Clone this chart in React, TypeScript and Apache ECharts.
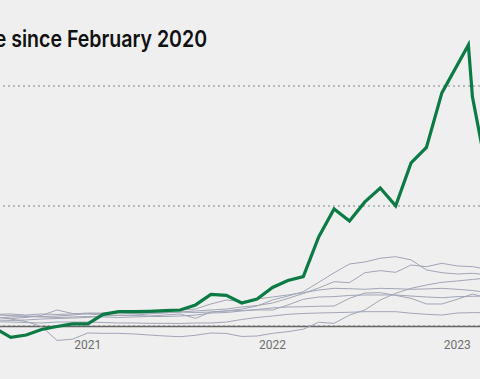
import React, { useEffect, useRef } from "react";
import * as echarts from "echarts";

// Monthly observations, July 2020 – March 2023 (percent change since February 2020)
const months: string[] = [
  "2020-07", "2020-08", "2020-09", "2020-10", "2020-11", "2020-12",
  "2021-01", "2021-02", "2021-03", "2021-04", "2021-05", "2021-06",
  "2021-07", "2021-08", "2021-09", "2021-10", "2021-11", "2021-12",
  "2022-01", "2022-02", "2022-03", "2022-04", "2022-05", "2022-06",
  "2022-07", "2022-08", "2022-09", "2022-10", "2022-11", "2022-12",
  "2023-01", "2023-02", "2023-03",
];

const greenMonths: string[] = months.slice(0, 30);
const greenValues: number[] = [
  -2, -9.4, -7.5, -2.9, -0.4, 1.7,
  1.7, 9.7, 11.9, 11.9, 12.2, 12.7,
  13.3, 17.5, 26.2, 25.4, 19.1, 22.4,
  32, 37.8, 41.1, 74, 97.3, 87.3,
  103.1, 114.7, 99.8, 135.5, 148.4, 193.7,
];
const greenTailDates: string[] = ["2023-01-23", "2023-01-31", "2023-02-24"];
const greenTailValues: number[] = [233.6, 190.4, 139];

const grayA: number[] = [
  7.5, 6.2, 7.1, 8.7, 13.3, 10.4, 10, 9.1, 8.7, 9.1, 10, 10.8,
  11.6, 11.2, 11.6, 12.5, 14.1, 16.6, 21.6, 24.9, 28.5, 36.3, 44.2, 51.5,
  53.2, 56.3, 57.6, 54.9, 46.6, 44.3, 43.2, 43.8, 42.4,
];
const grayB: number[] = [
  9.6, 10, 9.1, 10, 9.6, 10, 10.8, 10.4, 10.8, 10.4, 10.8, 11.2,
  11.6, 12.5, 13.3, 14.1, 15.8, 17, 19.1, 22.9, 27, 31.6, 36.8, 36,
  44.3, 46, 44.6, 50.7, 49.3, 52.1, 49.9, 49.3, 47.1,
];
const grayC: number[] = [
  7.5, 5.8, 3.7, -0.4, -12, -11, -5.8, -6.1, -6.1, -6.6, -7.5, -8.3,
  -8.9, -7.7, -5.8, -6.2, -8.7, -8.3, -6.1, -4.7, -2.7, 3.1, 2.2, 9.1,
  13.3, 21.6, 27.2, 31.3, 34.1, 36.3, 37.4, 38.7, 39.9,
];
const grayD: number[] = [
  9.1, 8.7, 8.3, 7.9, 8.3, 9.1, 10.4, 10.8, 11.6, 11.6, 12, 12.5,
  13.3, 14.1, 18.3, 21.6, 20.2, 22.4, 24.1, 25.8, 27.7, 29.9, 31.3, 31,
  30.5, 31.3, 31, 30.5, 30.8, 31.3, 30.5, 29.5, 27.7,
];
const grayE: number[] = [
  6.6, 7.5, 7.9, 7.5, 7.1, 7.5, 7.9, 7.5, 7.1, 7.5, 7.9, 7.9,
  8.3, 9.1, 10.8, 11.2, 12.5, 13.7, 15, 15.8, 16, 16.4, 16.6, 23,
  27.4, 27.7, 25.4, 23, 18.3, 18.3, 22.2, 26.6, 23,
];
const grayF: number[] = [
  5, 4.6, 5, 5.8, 6.2, 6.6, 7.1, 8.3, 9.1, 8.7, 8.3, 9.1,
  10, 6.4, 11.6, 12.5, 12.9, 13.3, 13.3, 17.5, 22.2, 24.1, 24.4, 25.4,
  25.8, 25.8, 25.8, 24.9, 24.1, 23.5, 24.4, 24.7, 24.9,
];
const grayG: number[] = [
  3.6, 3.3, 2.9, 2.5, 3.3, 3.3, 3.3, 2.9, 2.5, 2.5, 2.2, 2.2,
  2.1, 2.5, 2.5, 3.3, 5.4, 7.1, 8.3, 9.7, 10.4, 10.8, 11.1, 11.4,
  11.9, 11.9, 11.9, 10.6, 9.7, 9.1, 10.8, 11.1, 11.1,
];
const grayLines: number[][] = [grayA, grayB, grayC, grayD, grayE, grayF, grayG];

const titleText = "e since February 2020";
const yearLabels: number[] = [2021, 2022, 2023];

function toYear(d: string): number {
  const p = d.split("-").map(Number);
  const day = p.length > 2 ? p[2] : 1;
  return p[0] + (p[1] - 1) / 12 + (day - 1) / 365;
}

// The chart canvas is larger than the visible window; the window crops it.
const OFF_LEFT = 96.8;
const OFF_RIGHT = 162.4;
const OFF_TOP = 35.3;
const GRID_H = 361.3;
const BOTTOM_ROOM = 60;
const CHART_W = 480 + OFF_LEFT + OFF_RIGHT;
const CHART_H = GRID_H + BOTTOM_ROOM;

export default function App() {
  const ref = useRef<HTMLDivElement>(null);
  useEffect(() => {
    if (!ref.current) return;
    const chart = echarts.init(ref.current, null, { renderer: "svg" });
    const grayColor = "#a2a5b6";
    const series: any[] = grayLines.map((vals, i) => ({
      type: "line",
      name: "g" + i,
      data: months.map((m, j) => [toYear(m), vals[j]]),
      symbol: "none",
      clip: false,
      lineStyle: { color: grayColor, width: 1 },
      silent: true,
    }));
    const greenData = greenMonths
      .map((m, j) => [toYear(m), greenValues[j]])
      .concat(greenTailDates.map((d, j) => [toYear(d), greenTailValues[j]]));
    series.push({
      type: "line",
      name: "green",
      data: greenData,
      symbol: "none",
      clip: false,
      lineStyle: { color: "#0b7b45", width: 3.2, join: "miter" },
      z: 5,
    });
    chart.setOption({
      animation: false,
      backgroundColor: "#efefef",
      grid: { left: 0, right: 0, top: 0, bottom: BOTTOM_ROOM, containLabel: false, outerBoundsMode: "none" },
      xAxis: {
        type: "value",
        min: 2020,
        max: 2024,
        interval: 1,
        axisLine: { lineStyle: { color: "#666666", width: 1.3 } },
        axisTick: { show: false },
        splitLine: { show: false },
        axisLabel: {
          margin: 13,
          fontFamily: "Roboto",
          fontSize: 12,
          color: "#6e6e6e",
          formatter: (v: number) => (yearLabels.includes(Math.round(v)) ? String(Math.round(v)) : ""),
        },
      },
      yAxis: {
        type: "value",
        min: 0,
        max: 300,
        interval: 100,
        axisLine: { show: false },
        axisTick: { show: false },
        axisLabel: { show: false },
        splitLine: { lineStyle: { color: "#a9a9a9", width: 1.5, type: [2, 3] } },
      },
      graphic: [
        {
          type: "text",
          x: OFF_LEFT - 5,
          y: 27 + OFF_TOP,
          scaleX: 0.85,
          style: {
            text: titleText,
            fontFamily: "Inter",
            fontWeight: 600,
            fontSize: 23,
            fill: "#111111",
            verticalAlign: "top",
          },
        },
      ],
      series,
    });
    return () => chart.dispose();
  }, []);
  return (
    <div style={{ position: "absolute", left: 0, top: 0, width: 480, height: 379, overflow: "hidden", background: "#efefef" }}>
      <div
        ref={ref}
        style={{ position: "absolute", left: -OFF_LEFT, top: -OFF_TOP, width: CHART_W, height: CHART_H }}
      />
    </div>
  );
}
